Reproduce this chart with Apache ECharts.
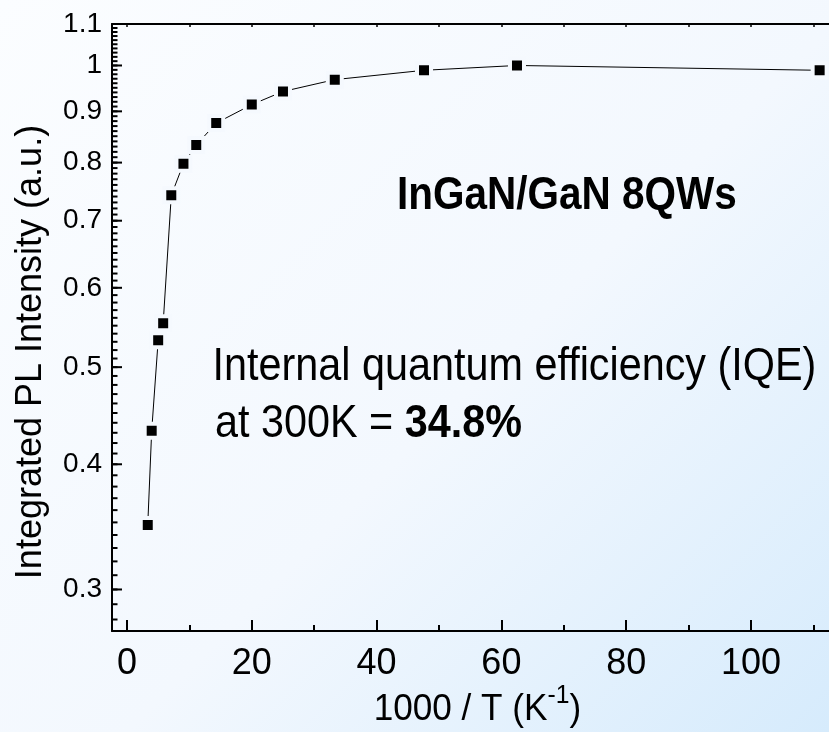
<!DOCTYPE html>
<html>
<head>
<meta charset="utf-8">
<script src="https://cdn.jsdelivr.net/npm/echarts@6/dist/echarts.min.js"></script>
<style>
html,body{margin:0;padding:0;}
#c{width:829px;height:732px;background:linear-gradient(135deg,#fbfdff 0%,#f3f8fe 55%,#d6ebfc 100%);}
</style>
</head>
<body>
<div id="c"></div>
<script>
// 1000/T (K^-1)
const invT = [3.33, 3.96, 5.0, 5.8, 7.1, 9.05, 11.1, 14.3, 20.0, 25.0, 33.3, 47.6, 62.5, 111.0];
// Integrated PL intensity (normalized)
const intensity = [0.348, 0.432, 0.532, 0.553, 0.742, 0.798, 0.833, 0.876, 0.914, 0.942, 0.968, 0.989, 1.0, 0.989];

const xMajorTicks = [0, 20, 40, 60, 80, 100];
const xMinorTicks = [10, 30, 50, 70, 90, 110];
const xTopTicks = [0, 10, 20, 30, 40, 50, 60, 70, 80, 90, 100, 110];
const yMajorTicks = [0.3, 0.4, 0.5, 0.6, 0.7, 0.8, 0.9, 1.0, 1.1];
const yMinorTicks = [];
for (let i = 28; i <= 109; i++) yMinorTicks.push(i / 100);

const X_MIN = -2.4, X_MAX = 112.5, Y_MIN = 0.2727, Y_MAX = 1.1;
const FONT = '"Liberation Sans", Arial, sans-serif';

const chart = echarts.init(document.getElementById('c'), null, {renderer: 'canvas'});
const points = invT.map((x, i) => [x, intensity[i]]);

// tick marks of the log axis, placed at the axis (x = X_MIN) through the axis scales
const tickSeries = (vals, len) => ({
  type: 'scatter',
  xAxisIndex: 0, yAxisIndex: 0,
  data: vals.map(v => [X_MIN, v]),
  symbol: 'rect', symbolSize: [len, 2], symbolOffset: [len / 2, 0],
  itemStyle: {color: '#000', opacity: 1},
  clip: false, silent: true, z: 3,
  emphasis: {disabled: true}
});

const option = {
  animation: false,
  backgroundColor: 'transparent',
  textStyle: {fontFamily: FONT, color: '#000'},
  grid: {left: 112, right: 0, top: 24, bottom: 101, containLabel: false, outerBoundsMode: 'none'},
  xAxis: [
    {
      type: 'value', min: X_MIN, max: X_MAX, position: 'bottom',
      axisLine: {show: true, onZero: false, lineStyle: {color: '#000', width: 2}},
      axisTick: {show: true, inside: true, length: 11, lineStyle: {color: '#000', width: 2}, customValues: xMajorTicks},
      axisLabel: {show: true, customValues: xMajorTicks, fontSize: 36, color: '#000', margin: 15, fontFamily: FONT},
      splitLine: {show: false}
    },
    {
      type: 'value', min: X_MIN, max: X_MAX, position: 'bottom',
      axisLine: {show: false, onZero: false},
      axisTick: {show: true, inside: true, length: 6, lineStyle: {color: '#000', width: 2}, customValues: xMinorTicks},
      axisLabel: {show: false},
      splitLine: {show: false}
    },
    {
      type: 'value', min: X_MIN, max: X_MAX, position: 'top',
      axisLine: {show: true, onZero: false, lineStyle: {color: '#000', width: 2}},
      axisTick: {show: true, inside: true, length: 3, lineStyle: {color: '#000', width: 1.5}, customValues: xTopTicks},
      axisLabel: {show: false},
      splitLine: {show: false}
    }
  ],
  yAxis: [
    {
      type: 'log', logBase: 10, min: Y_MIN, max: Y_MAX, position: 'left',
      axisLine: {show: true, onZero: false, lineStyle: {color: '#000', width: 2}},
      axisTick: {show: false},
      axisLabel: {show: true, customValues: yMajorTicks, fontSize: 28, color: '#000', margin: 10, fontFamily: FONT,
        formatter: v => String(Math.round(v * 10) / 10)},
      splitLine: {show: false}
    }
  ],
  series: [
    tickSeries(yMinorTicks, 5.5),
    tickSeries(yMajorTicks, 10),
    {
      type: 'line',
      xAxisIndex: 0, yAxisIndex: 0,
      data: points,
      symbol: 'rect', symbolSize: 14, showSymbol: true,
      lineStyle: {color: '#000', width: 1},
      itemStyle: {color: '#000', borderColor: '#f5f9fe', borderWidth: 4},
      silent: true, z: 4
    }
  ],
  graphic: [
    {
      type: 'text', x: 397, y: 196, scaleX: 0.88,
      style: {text: 'InGaN/GaN 8QWs', font: 'bold 46px ' + FONT, fill: '#000', align: 'left', verticalAlign: 'middle'}
    },
    {
      type: 'text', x: 212.5, y: 367, scaleX: 0.88,
      style: {text: 'Internal quantum efficiency (IQE)', font: '47px ' + FONT, fill: '#000', align: 'left', verticalAlign: 'middle'}
    },
    {
      type: 'text', x: 215, y: 424.5, scaleX: 0.88,
      style: {
        text: '{r|at 300K = }{b|34.8%}', fill: '#000', align: 'left', verticalAlign: 'middle',
        rich: {
          r: {fontSize: 47, fontFamily: FONT, fill: '#000'},
          b: {fontSize: 47, fontWeight: 'bold', fontFamily: FONT, fill: '#000'}
        }
      }
    },
    {
      type: 'text', x: 31.3, y: 352, rotation: Math.PI / 2,
      style: {text: 'Integrated PL Intensity (a.u.)', font: '36px ' + FONT, fill: '#000', align: 'center', verticalAlign: 'middle'}
    },
    {
      type: 'text', x: 477.4, y: 710.2, scaleX: 0.95,
      style: {
        text: '{a|1000 / T (K}{s|-1}{a|)}', fill: '#000', align: 'center', verticalAlign: 'middle',
        rich: {
          a: {fontSize: 37, fontFamily: FONT, fill: '#000', lineHeight: 37},
          s: {fontSize: 26, fontFamily: FONT, fill: '#000', lineHeight: 24, padding: [0, 0, 28, 0]}
        }
      }
    }
  ]
};
chart.setOption(option);
</script>
</body>
</html>
